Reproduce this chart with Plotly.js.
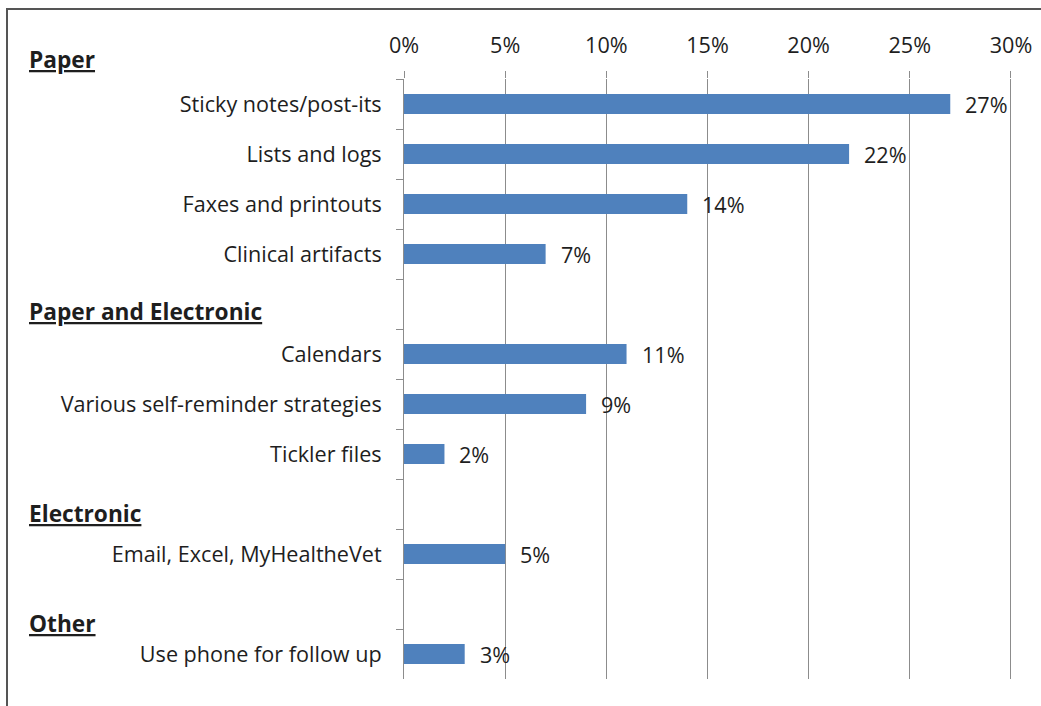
<!DOCTYPE html>
<html>
<head>
<meta charset="utf-8">
<script src="https://cdn.plot.ly/plotly-3.0.1.min.js"></script>
<style>
  html, body { margin: 0; padding: 0; background: #fff; }
  #wrap { position: relative; width: 1041px; height: 706px; overflow: hidden; }
  #chart { position: absolute; left: 0; top: 0; width: 1041px; height: 706px; }
  #frame { position: absolute; left: 6px; top: 8px; width: 1100px; height: 800px;
           border-top: 2px solid #555; border-left: 2px solid #555; pointer-events: none; }
</style>
</head>
<body>
<div id="wrap">
  <div id="chart"></div>
  <div id="frame"></div>
</div>
<script>
// Categories (blank slots are group header rows)
const categories = [
  "Sticky notes/post-its",
  "Lists and logs",
  "Faxes and printouts",
  "Clinical artifacts",
  " ",
  "Calendars",
  "Various self-reminder strategies",
  "Tickler files",
  "  ",
  "Email, Excel, MyHealtheVet",
  "   ",
  "Use phone for follow up"
];
// Percent values (null for header rows)
const values = [27, 22, 14, 7, null, 11, 9, 2, null, 5, null, 3];
// Group headers
const groupHeaders = ["Paper", "Paper and Electronic", "Electronic", "Other"];
const xTickVals = [0, 5, 10, 15, 20, 25, 30];
const xTickText = ["0%", "5%", "10%", "15%", "20%", "25%", "30%"];

const FONT = "'Open Sans', Lato, sans-serif";
const TXT = "#1e1e1e";
const FS = 21.6;

const cats = [], vals = [];
categories.forEach((c, i) => { if (values[i] !== null) { cats.push(c); vals.push(values[i]); } });

const trace = {
  type: "bar",
  orientation: "h",
  x: values,
  y: categories,
  marker: { color: "#4F81BD" },
  hoverinfo: "skip"
};

const labelAnn = cats.map((c, i) => ({
  x: vals[i], y: c, xref: "x", yref: "y",
  text: vals[i] + "%", showarrow: false,
  xanchor: "left", yanchor: "middle", xshift: 13,
  font: { family: FONT, size: FS, color: TXT }
}));

// header vertical positions in pixels
const headerPx = [60, 311, 513, 623];
const plotTop = 79, plotH = 600, plotLeft = 404, plotW = 611;
const headerAnn = groupHeaders.map((h, i) => ({
  x: (27 - plotLeft) / plotW, xref: "paper",
  y: (plotTop + plotH - headerPx[i]) / plotH, yref: "paper",
  text: "<b><u>" + h + "</u></b>", showarrow: false,
  xanchor: "left", yanchor: "middle",
  font: { family: FONT, size: 22.7, color: TXT }
}));

const layout = {
  width: 1041, height: 706,
  margin: { l: 404, r: 26, t: 79, b: 27, pad: 0 },
  paper_bgcolor: "#fff", plot_bgcolor: "#fff",
  showlegend: false,
  bargap: 0.6,
  xaxis: {
    side: "top",
    range: [0, 30.2],
    tickvals: xTickVals, ticktext: xTickText,
    showgrid: true, gridcolor: "#8c8c8c", gridwidth: 1,
    zeroline: false, showline: false,
    ticks: "outside", ticklen: 7, tickcolor: "#8c8c8c", tickwidth: 1,
    ticklabelstandoff: 9,
    tickfont: { family: FONT, size: FS, color: TXT },
    fixedrange: true
  },
  yaxis: {
    type: "category",
    categoryorder: "array", categoryarray: categories,
    autorange: "reversed",
    showgrid: false, zeroline: false,
    showline: true, linecolor: "#8c8c8c", linewidth: 1,
    ticks: "outside", ticklen: 7, tickcolor: "#8c8c8c", tickwidth: 1,
    tickson: "boundaries",
    ticklabelstandoff: 17,
    tickfont: { family: FONT, size: FS, color: TXT },
    fixedrange: true
  },
  annotations: labelAnn.concat(headerAnn)
};

Plotly.newPlot("chart", [trace], layout, { displayModeBar: false, staticPlot: true });
</script>
</body>
</html>
